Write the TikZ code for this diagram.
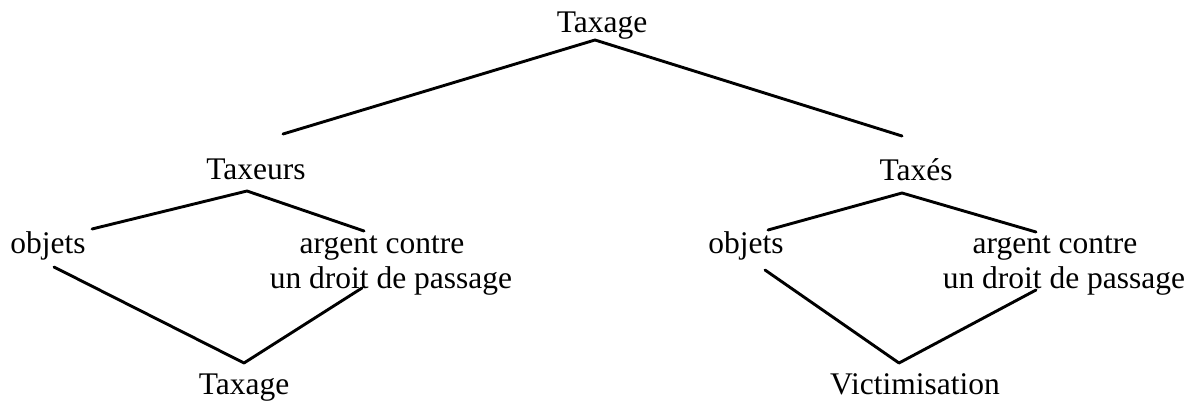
\documentclass[tikz,border=0pt]{standalone}
\usepackage{fontspec}
\setmainfont{Liberation Serif}
\begin{document}
\begin{tikzpicture}[x=1pt,y=-1pt,
  lbl/.style={inner sep=0pt, anchor=base, font=\fontsize{31.5}{35}\selectfont},
  edge/.style={line width=2.9pt, line cap=round, line join=round}]
\useasboundingbox (0,0) rectangle (1200,407);
% labels
\node[lbl] (root) at (602,32) {Taxage};
\node[lbl] (taxeurs) at (256,179) {Taxeurs};
\node[lbl] (taxes) at (916,180) {Taxés};
\node[lbl] (objL) at (48,253) {objets};
\node[lbl] (argL) at (382,253) {argent contre};
\node[lbl] (droitL) at (391,288) {un droit de passage};
\node[lbl] (objR) at (746,253) {objets};
\node[lbl] (argR) at (1055,253) {argent contre};
\node[lbl] (droitR) at (1064,288) {un droit de passage};
\node[lbl] (taxage) at (244,394) {Taxage};
\node[lbl] (victim) at (915,394) {Victimisation};
% connector points
\coordinate (rootJ) at (595,40);
\coordinate (tL) at (283,134);
\coordinate (tR) at (902,136);
\coordinate (lJ) at (247,191);
\coordinate (lA) at (92,229);
\coordinate (lB) at (364,231);
\coordinate (lC) at (54,267);
\coordinate (lD) at (244,363);
\coordinate (lE) at (362,288);
\coordinate (rJ) at (902,193);
\coordinate (rA) at (768,230);
\coordinate (rB) at (1036,232);
\coordinate (rC) at (765,270);
\coordinate (rD) at (899,363);
\coordinate (rE) at (1036,290);
% connectors
\draw[edge] (tL) -- (rootJ) -- (tR);
\draw[edge] (lA) -- (lJ) -- (lB);
\draw[edge] (lC) -- (lD) -- (lE);
\draw[edge] (rA) -- (rJ) -- (rB);
\draw[edge] (rC) -- (rD) -- (rE);
\end{tikzpicture}
\end{document}
